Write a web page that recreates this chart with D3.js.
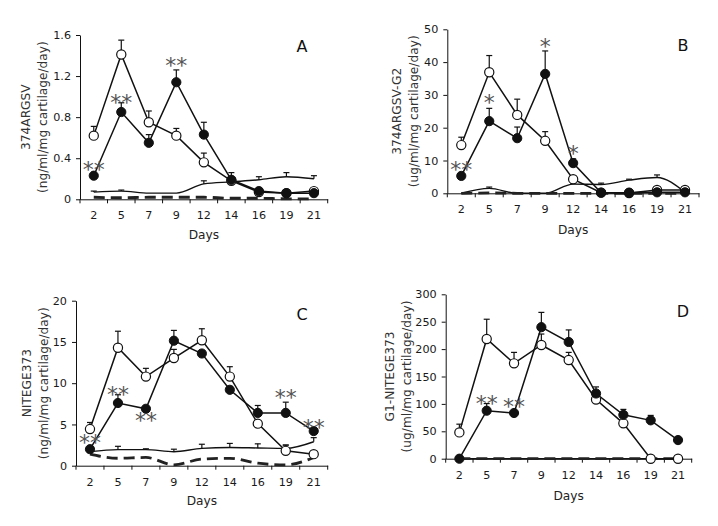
<!DOCTYPE html>
<html><head><meta charset="utf-8">
<script src="https://cdn.jsdelivr.net/npm/d3@7"></script>
<style>
body{margin:0;background:#fff;}
svg text{font-family:"DejaVu Sans",Verdana,sans-serif;fill:#1a1a1a;}
</style></head>
<body><svg id="c" width="718" height="526"></svg>
<script>
const days = ["2","5","7","9","12","14","16","19","21"];

// Panel A
const aOpen = [0.62,1.41,0.75,0.62,0.36,0.18,0.07,0.06,0.08];
const aOpenErr = [0.09,0.14,0.11,0.07,0.09,0,0,0,0];
const aFilled = [0.23,0.85,0.55,1.14,0.63,0.19,0.08,0.06,0.06];
const aFilledErr = [0.01,0.09,0.08,0.12,0.12,0.07,0.02,0.01,0.01];
const aThin = [0.07,0.08,0.06,0.06,0.15,0.17,0.19,0.22,0.20];
const aThinErr = [0.01,0.01,0,0,0.03,0.02,0.03,0.04,0.03];
const aDashed = [0.02,0.015,0.02,0.02,0.02,0.01,0.01,0.005,0.005];
const aTicks = [0,0.4,0.8,1.2,1.6];
const aStars = [{day:"2",t:"**",v:0.32},{day:"5",t:"**",v:0.98},{day:"9",t:"**",v:1.34}];

// Panel B
const bOpen = [14.7,36.9,23.9,16.0,4.3,0.2,0.1,1.0,1.0];
const bOpenErr = [2.4,5.1,4.8,2.8,0.8,0,0,0.3,0.3];
const bFilled = [5.3,22,16.8,36.4,9.2,0.2,0.2,0.3,0.3];
const bFilledErr = [0.3,3.9,3.4,7.0,1.3,0,0,0,0];
const bThin = [0,1.5,0,0,2.8,2.7,4.0,4.8,0.3];
const bThinErr = [0,0.4,0,0,0.3,0.4,0.3,0.8,0];
const bDashed = [0,0.1,0,0,0,0,0,0,0];
const bTicks = [0,10,20,30,40,50];
const bStars = [{day:"2",t:"**",v:8.3},{day:"5",t:"*",v:28.7},{day:"9",t:"*",v:45.7},{day:"12",t:"*",v:13.3}];

// Panel C
const cOpen = [4.44,14.3,10.8,13.05,15.2,10.8,5.1,1.8,1.4];
const cOpenErr = [0.8,2.0,1.0,1.05,1.4,1.2,0,0.7,0];
const cFilled = [2.0,7.6,6.9,15.15,13.6,9.2,6.4,6.4,4.2];
const cFilledErr = [0,1.0,0,1.25,0,0.4,0.9,1.3,0];
const cThin = [1.7,1.95,1.95,1.7,2.1,2.2,2.15,2.1,2.9];
const cThinErr = [0.3,0.4,0.1,0.3,0.5,0.5,0.5,0.4,0.5];
const cDashed = [1.4,0.9,1.0,0.1,0.8,0.9,0.3,0.1,1.0];
const cTicks = [0,5,10,15,20];
const cStars = [{day:"2",t:"**",v:3.2},{day:"5",t:"**",v:9.1},{day:"7",t:"**",v:5.9},{day:"19",t:"**",v:8.7},{day:"21",t:"**",v:5.1}];

// Panel D
const dOpen = [48,218.5,174,207.5,180,108,64.5,0,0];
const dOpenErr = [15,36,20,20,14,0,0,0,0];
const dFilled = [0,87.6,83.4,240,213,119,80,70,34];
const dFilledErr = [0,13,0,27,22,12,10,9,0];
const dThin = [0,0,0,0,0,0,0,0,0];
const dThinErr = [0,0,0,0,0,0,0,0,0];
const dDashed = [0,0,0,0,0,0,0,0,0];
const dTicks = [0,50,100,150,200,250,300];
const dStars = [{day:"5",t:"**",v:108},{day:"7",t:"**",v:102}];

const svg = d3.select("#c");

function panel(cfg){
  const g = svg.append("g");
  const x = d3.scaleBand().domain(days).range([cfg.x0,cfg.x1]);
  const y = d3.scaleLinear().domain([0,cfg.ticks[cfg.ticks.length-1]]).range([cfg.y0,cfg.y1]);
  const cx = d => x(d)+x.bandwidth()/2;

  // axes
  const ya = g.append("g").attr("transform",`translate(${cfg.x0},0)`)
    .call(d3.axisLeft(y).tickValues(cfg.ticks).tickSize(4).tickPadding(5).tickSizeOuter(0).tickFormat(d=>d3.format("")(d)));
  const xa = g.append("g").attr("transform",`translate(0,${cfg.y0})`)
    .call(d3.axisBottom(x).tickSize(0).tickPadding(12).tickSizeOuter(0));
  [ya,xa].forEach(a=>{a.selectAll("path,line").attr("stroke","#111").attr("stroke-width",1);
    a.selectAll("text").style("font-size","11.2px").attr("fill","#1a1a1a");});
  const bounds = days.map(d=>x(d)).concat([cfg.x1]);
  g.selectAll(".bt").data(bounds).enter().append("line")
    .attr("x1",d=>d).attr("x2",d=>d).attr("y1",cfg.y0).attr("y2",cfg.y0+4)
    .attr("stroke","#111");

  // lines
  const pts = arr => arr.map((v,i)=>[cx(days[i]),y(v)]);
  const straight = d3.line();
  const smooth = d3.line().curve(d3.curveMonotoneX);
  g.append("path").attr("d",smooth(pts(cfg.thin))).attr("fill","none").attr("stroke","#111").attr("stroke-width",1.4);
  g.append("path").attr("d",smooth(pts(cfg.dashed))).attr("fill","none").attr("stroke","#222").attr("stroke-width",2.8).attr("stroke-dasharray","11,6");
  g.append("path").attr("d",straight(pts(cfg.open))).attr("fill","none").attr("stroke","#111").attr("stroke-width",1.5);
  g.append("path").attr("d",straight(pts(cfg.filled))).attr("fill","none").attr("stroke","#111").attr("stroke-width",1.5);

  // error bars
  function errs(vals,errv){
    vals.forEach((v,i)=>{
      if(!errv[i]) return;
      const X = cx(days[i]);
      g.append("line").attr("x1",X).attr("x2",X).attr("y1",y(v)).attr("y2",y(v+errv[i])).attr("stroke","#111").attr("stroke-width",1.2);
      g.append("line").attr("x1",X-3).attr("x2",X+3).attr("y1",y(v+errv[i])).attr("y2",y(v+errv[i])).attr("stroke","#111").attr("stroke-width",1.2);
    });
  }
  errs(cfg.thin,cfg.thinErr);
  errs(cfg.open,cfg.openErr);
  errs(cfg.filled,cfg.filledErr);

  // markers
  g.selectAll(".o").data(cfg.open).enter().append("circle")
    .attr("cx",(d,i)=>cx(days[i])).attr("cy",d=>y(d)).attr("r",4.6)
    .attr("fill","#fff").attr("stroke","#111").attr("stroke-width",1.2);
  g.selectAll(".f").data(cfg.filled).enter().append("circle")
    .attr("cx",(d,i)=>cx(days[i])).attr("cy",d=>y(d)).attr("r",4.6)
    .attr("fill","#111").attr("stroke","#111").attr("stroke-width",1);

  // stars
  g.selectAll(".s").data(cfg.stars).enter().append("text")
    .attr("x",d=>cx(d.day)).attr("y",d=>y(d.v)+11).attr("text-anchor","middle")
    .style("font-size","22px").style("fill","#555").style("letter-spacing","0px").text(d=>d.t);

  // labels
  const my = (cfg.y0+cfg.y1)/2;
  g.append("text").attr("transform",`translate(${cfg.t1x},${my}) rotate(-90)`).attr("text-anchor","middle")
    .attr("dominant-baseline","central").style("font-size","12.2px").style("fill","#333").text(cfg.title1);
  g.append("text").attr("transform",`translate(${cfg.t2x},${my}) rotate(-90)`).attr("text-anchor","middle")
    .attr("dominant-baseline","central").style("font-size","12.2px").style("fill","#333").text(cfg.title2);
  g.append("text").attr("x",(cfg.x0+cfg.x1)/2).attr("y",cfg.daysY).attr("text-anchor","middle")
    .style("font-size","12.2px").style("fill","#222").text("Days");
  g.append("text").attr("x",cfg.lx).attr("y",cfg.ly).attr("text-anchor","middle")
    .style("font-size","16px").style("fill","#111").text(cfg.letter);
}

panel({x0:80,x1:327.7,y0:199.3,y1:35,ticks:aTicks,open:aOpen,openErr:aOpenErr,filled:aFilled,filledErr:aFilledErr,
  thin:aThin,thinErr:aThinErr,dashed:aDashed,stars:aStars,title1:"374ARGSV",title2:"(ng/ml/mg cartilage/day)",
  t1x:26,t2x:43,daysY:239,letter:"A",lx:302,ly:52});
panel({x0:447.3,x1:699,y0:193.3,y1:29.3,ticks:bTicks,open:bOpen,openErr:bOpenErr,filled:bFilled,filledErr:bFilledErr,
  thin:bThin,thinErr:bThinErr,dashed:bDashed,stars:bStars,title1:"374ARGSV-G2",title2:"(ug/ml/mg cartilage/day)",
  t1x:397,t2x:413.5,daysY:233.5,letter:"B",lx:683,ly:51});
panel({x0:76,x1:327.7,y0:465.7,y1:300.7,ticks:cTicks,open:cOpen,openErr:cOpenErr,filled:cFilled,filledErr:cFilledErr,
  thin:cThin,thinErr:cThinErr,dashed:cDashed,stars:cStars,title1:"NITEGE373",title2:"(ng/ml/mg cartilage/day)",
  t1x:26.5,t2x:43.5,daysY:505,letter:"C",lx:302,ly:320});
panel({x0:445.7,x1:691.7,y0:458.7,y1:294.3,ticks:dTicks,open:dOpen,openErr:dOpenErr,filled:dFilled,filledErr:dFilledErr,
  thin:dThin,thinErr:dThinErr,dashed:dDashed,stars:dStars,title1:"G1-NITEGE373",title2:"(ug/ml/mg cartilage/day)",
  t1x:390,t2x:406.5,daysY:499.5,letter:"D",lx:683,ly:317});
</script></body></html>
